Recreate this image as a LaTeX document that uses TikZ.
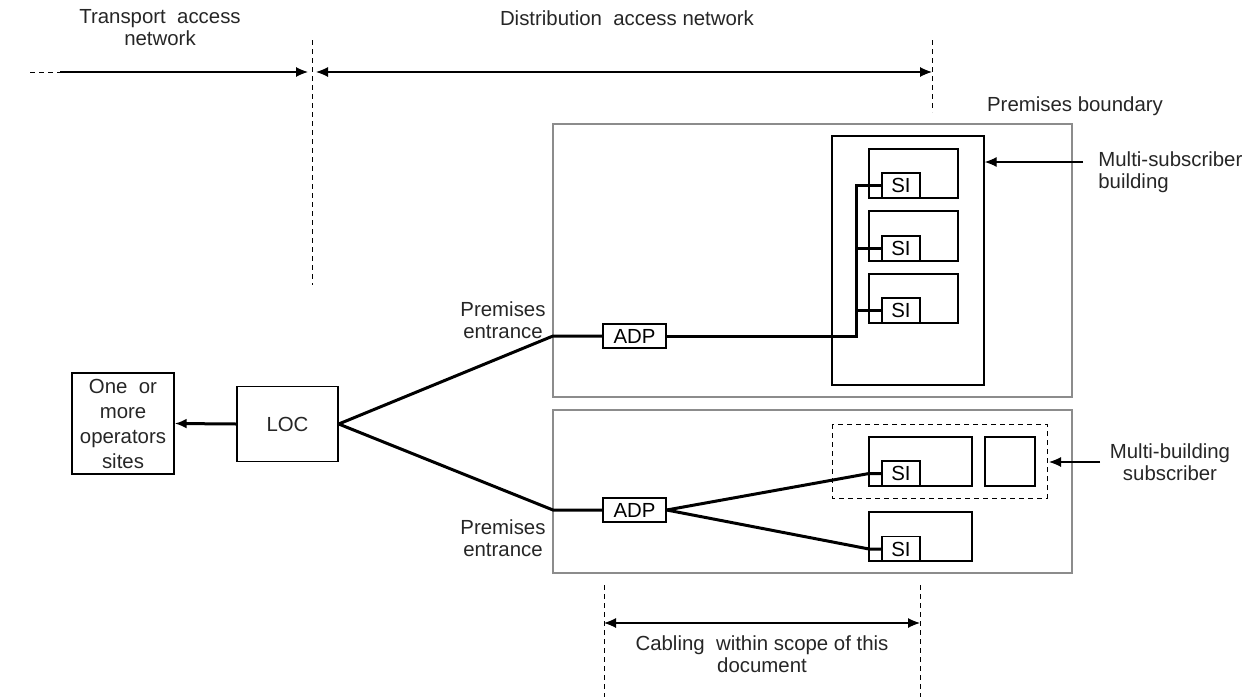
\documentclass[tikz,border=0pt]{standalone}
\usepackage{fontspec}
\setmainfont{Liberation Sans}
\usetikzlibrary{arrows.meta}

\tikzset{
  box/.style={draw, line width=0.7pt, inner sep=0pt, align=center},
  bound/.style={draw=black!45, line width=0.6pt},
  cable/.style={line width=1.5pt},
  guide/.style={line width=0.5pt, dash pattern=on 2.5pt off 2pt},
  dim/.style={line width=0.55pt},
  lbl/.style={align=center, inner sep=0pt, text=black!85},
  tip/.style={-{Latex[length=6pt,width=5pt]}},
  tips/.style={{Latex[length=6pt,width=5pt]}-{Latex[length=6pt,width=5pt]}},
}

\begin{document}
\begin{tikzpicture}[x=0.5pt, y=-0.5pt, font=\fontsize{10.2}{11}\selectfont]

  \useasboundingbox (0,0) rectangle (1244,697);

  % Network sections at the top
  \node[lbl] (tan) at (160,28) {Transport\ \ access\\network};
  \node[lbl] (dan) at (627,18) {Distribution\ \ access network};
  \coordinate (tstart) at (30,72);
  \coordinate (tsolid) at (60,72);
  \coordinate (tmid) at (312,72);
  \coordinate (tend) at (932,72);
  \draw[guide] (tstart) -- (tsolid);
  \draw[dim, tip] (tsolid) -- ([xshift=-2]tmid);
  \draw[dim, tips] ([xshift=2]tmid) -- (tend);
  \draw[guide] (312,40) -- (312,285);
  \draw[guide] (932,40) -- (932,112);

  % Premises boundaries
  \node[lbl] (pb) at (1075,106) {Premises boundary};
  \draw[bound] (553,124) rectangle (1072,397);
  \draw[bound] (553,410) rectangle (1072,573);

  % Operators and LOC
  \node[box, lbl, draw=black, minimum width=51pt, minimum height=50.5pt,
        font=\fontsize{10.2}{12.5}\selectfont] (ops) at (123,423.5) {One\ \ or\\more\\operators\\sites};
  \node[box, lbl, draw=black, minimum width=50.5pt, minimum height=37.5pt] (loc) at (287.5,424) {LOC};
  \draw[cable, -{Latex[length=6pt,width=5pt]}] (loc.west) -- (ops.east);

  % Premises entrances and ADPs
  \coordinate (pe1) at (553,336);
  \coordinate (pe2) at (553,510);
  \node[lbl] (pel1) at (503,320) {Premises\\entrance};
  \node[lbl] (pel2) at (503,538) {Premises\\entrance};
  \node[box, minimum width=31.5pt, minimum height=12pt] (adp1) at (634.5,336) {ADP};
  \node[box, minimum width=31.5pt, minimum height=12pt] (adp2) at (634.5,510) {ADP};
  \draw[cable] (loc.east) -- (pe1) -- (adp1.west);
  \draw[cable] (loc.east) -- (pe2) -- (adp2.west);

  % Multi-subscriber building
  \node[box, minimum width=76pt, minimum height=124.5pt] (bldg) at (908,260.5) {};
  \draw[box] (869,149) rectangle (958,198);
  \draw[box] (869,211) rectangle (958,261);
  \draw[box] (869,274) rectangle (958,323);
  \node[box, minimum width=19pt, minimum height=12.5pt] (si1) at (901,185.5) {SI};
  \node[box, minimum width=19pt, minimum height=12.5pt] (si2) at (901,248.5) {SI};
  \node[box, minimum width=19pt, minimum height=12.5pt] (si3) at (901,310.5) {SI};
  \coordinate (bus) at (856,336);
  \draw[cable] (adp1.east) -- (bus) |- (si1.west);
  \draw[cable] (bus |- si2.west) -- (si2.west);
  \draw[cable] (bus |- si3.west) -- (si3.west);
  \node[lbl, align=left, anchor=west] (msb) at (1098,172) {Multi-subscriber\\building};
  \coordinate (msbtail) at (1083,162);
  \draw[dim, tip] (msbtail) -- (bldg.east |- msbtail);

  % Multi-building subscriber
  \draw[guide] (832,424) rectangle (1047,498);
  \draw[box] (869,437) rectangle (972,486);
  \draw[box] (985,437) rectangle (1035,486);
  \draw[box] (869,512) rectangle (972,561);
  \node[box, minimum width=19pt, minimum height=12.5pt] (si4) at (901,473.5) {SI};
  \node[box, minimum width=19pt, minimum height=12.5pt] (si5) at (901,549) {SI};
  \coordinate (k4) at (869,473.5);
  \coordinate (k5) at (869,549);
  \draw[cable] (adp2.east) -- (k4) -- (si4.west);
  \draw[cable] (adp2.east) -- (k5) -- (si5.west);
  \node[lbl] (mbs) at (1170,462) {Multi-building\\subscriber};
  \coordinate (mbstail) at (1100,462);
  \coordinate (mbshead) at (1049,462);
  \draw[dim, tip] (mbstail) -- (mbshead);

  % Scope of this document
  \draw[guide] (604,585) -- (604,697);
  \draw[guide] (920,585) -- (920,697);
  \coordinate (sl) at (604,623);
  \coordinate (sr) at (920,623);
  \draw[dim, tips] (sl) -- (sr);
  \node[lbl] (scope) at (762,654) {Cabling\ \ within scope of this\\document};

\end{tikzpicture}
\end{document}
